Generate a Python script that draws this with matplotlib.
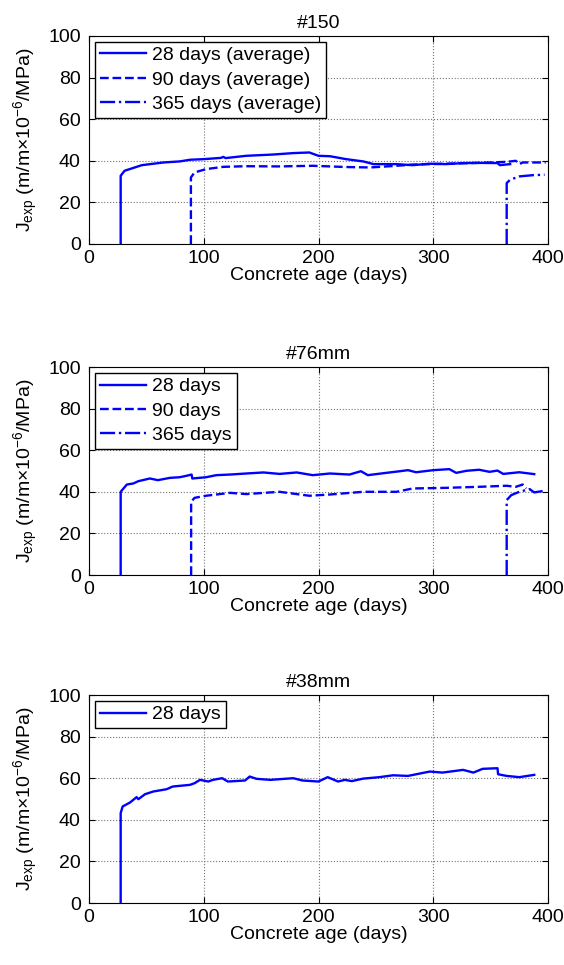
import matplotlib
matplotlib.use("Agg")
import matplotlib.pyplot as plt

plt.rcParams["font.family"] = ["Liberation Sans", "DejaVu Sans"]
plt.rcParams["mathtext.fontset"] = "custom"
plt.rcParams["mathtext.rm"] = "Liberation Sans"
plt.rcParams["mathtext.it"] = "Liberation Sans:italic"

# ---- #150 ----
d150_28_x = [27.6, 27.6, 31, 46, 65, 79, 88, 100, 115, 117, 119, 137, 160, 178, 192, 200, 210,
             224, 239, 248, 268, 282, 297, 311, 326, 340, 356, 358, 367]
d150_28_y = [0, 32.8, 35.2, 37.9, 39.2, 39.7, 40.5, 40.8, 41.4, 41.9, 41.3, 42.4, 43.0, 43.7,
             44.0, 42.4, 42.2, 40.8, 39.7, 38.4, 38.4, 37.9, 38.6, 38.4, 38.9, 39.0, 38.9, 37.9, 38.4]
d150_90_x = [88.8, 88.8, 92, 102, 117, 137, 166, 195, 210, 224, 245, 268, 282, 311, 340, 364,
             372, 375, 378, 398]
d150_90_y = [0, 32.0, 34.4, 36.0, 37.1, 37.4, 37.3, 37.6, 37.3, 37.0, 36.8, 37.6, 38.2, 38.6,
             39.0, 39.5, 40.0, 38.4, 39.2, 39.2]
d150_365_x = [364, 364, 367, 375, 387, 397]
d150_365_y = [0, 29.3, 30.9, 32.5, 33.1, 33.3]

# ---- #76mm ----
d76_28_x = [27.6, 27.6, 33, 38.6, 43, 53, 60, 70.5, 79, 85, 89.4, 90, 102, 111, 123, 137, 152,
            166, 181, 195, 210, 227, 237, 243, 259, 271, 278, 285, 300, 314, 320, 329, 340,
            349, 356, 361, 375, 388]
d76_28_y = [0, 40.0, 43.5, 44.0, 45.1, 46.4, 45.6, 46.7, 47.0, 47.7, 48.3, 46.4, 47.0, 48.0,
            48.3, 48.8, 49.3, 48.6, 49.3, 48.0, 48.8, 48.3, 49.9, 48.0, 49.1, 49.9, 50.4, 49.4,
            50.4, 50.9, 49.1, 50.1, 50.6, 49.6, 50.2, 48.6, 49.4, 48.5]
d76_90_x = [89, 89, 92, 102, 123, 137, 166, 181, 192, 210, 239, 268, 282, 311, 340, 364, 372,
            378, 381]
d76_90_y = [0, 35.2, 37.1, 38.1, 39.5, 38.9, 40.0, 38.9, 38.1, 38.7, 40.0, 40.0, 41.6, 41.9,
            42.4, 42.9, 42.4, 43.5, 41.6]
d76_365_x = [364, 364, 368, 375, 384, 388, 398]
d76_365_y = [0, 36.0, 38.4, 40.0, 41.3, 39.7, 40.6]

# ---- #38mm ----
d38_28_x = [27.6, 27.6, 29.3, 35.7, 41.5, 43, 48.8, 56, 67.6, 73, 88, 92, 96.7, 104, 108, 116,
            121, 136, 140, 146, 158, 178, 186, 200, 208, 217, 223, 229, 239, 253, 265, 278,
            297, 308, 326, 335, 343, 356, 356.5, 364, 375, 388]
d38_28_y = [0, 43.2, 46.4, 48.3, 50.9, 49.9, 52.3, 53.6, 54.7, 56.0, 56.8, 57.6, 59.2, 58.4,
            59.2, 60.0, 58.4, 58.9, 60.8, 59.7, 59.2, 60.0, 58.9, 58.4, 60.5, 58.4, 59.2, 58.6,
            59.8, 60.5, 61.4, 61.1, 63.2, 62.7, 64.0, 62.7, 64.5, 64.8, 61.9, 61.1, 60.5, 61.6]

panels = [
    ("#150", [(d150_28_x, d150_28_y, "-", "28 days (average)"),
              (d150_90_x, d150_90_y, "--", "90 days (average)"),
              (d150_365_x, d150_365_y, "-.", "365 days (average)")]),
    ("#76mm", [(d76_28_x, d76_28_y, "-", "28 days"),
               (d76_90_x, d76_90_y, "--", "90 days"),
               (d76_365_x, d76_365_y, "-.", "365 days")]),
    ("#38mm", [(d38_28_x, d38_28_y, "-", "28 days")]),
]

# axes boxes in pixels (top, bottom)
W, H = 564, 965
boxes = [(36, 244), (367, 575), (695, 903)]
left, right = 89, 548

fig = plt.figure(figsize=(W / 100, H / 100), dpi=100)
fs = 14
for (title, series), (top, bot) in zip(panels, boxes):
    ax = fig.add_axes([left / W, 1 - bot / H, (right - left) / W, (bot - top) / H])
    for x, y, ls, lab in series:
        ax.plot(x, y, color="#0000ff", ls=ls, lw=1.7, label=lab)
    ax.set_xlim(0, 400)
    ax.set_ylim(0, 100)
    ax.set_xticks([0, 100, 200, 300, 400])
    ax.set_yticks([0, 20, 40, 60, 80, 100])
    ax.grid(True, ls=":", color="0.45", lw=0.8)
    ax.tick_params(direction="in", top=True, right=True, labelsize=fs, length=4)
    ax.tick_params(axis="x", pad=4)
    ax.tick_params(axis="y", pad=6)
    ax.set_title(title, fontsize=fs, pad=6)
    ax.set_xlabel("Concrete age (days)", fontsize=fs, labelpad=0)
    ax.set_ylabel(r"J$_{\rm exp}$ (m/m$\times$10$^{-6}$/MPa)", fontsize=fs, labelpad=6)
    leg = ax.legend(loc="upper left", fontsize=fs, fancybox=False, framealpha=1,
                    edgecolor="k", borderaxespad=0.3, handlelength=2.4,
                    handletextpad=0.3, borderpad=0.25, labelspacing=0.35)
    leg.get_frame().set_linewidth(1.0)

fig.savefig("out.png", dpi=100)
